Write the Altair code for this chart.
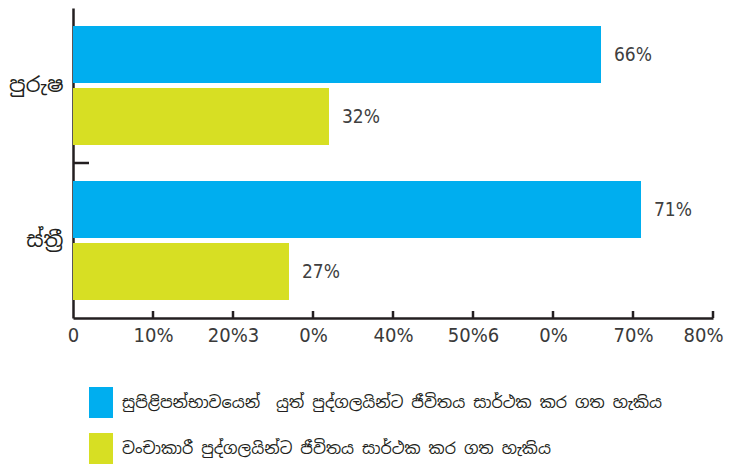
import altair as alt
import pandas as pd

# ---- data ----
categories = ["පුරුෂ", "ස්ත්\u200dරී"]
series = [
    "සුපිළිපන්භාවයෙන්\u00a0 යුත් පුද්ගලයින්ට ජීවිතය සාර්ථක කර ගත හැකිය",
    "වංචාකාරී පුද්ගලයින්ට ජීවිතය සාර්ථක කර ගත හැකිය",
]
honest_values = [66, 71]
deceitful_values = [32, 27]
x_tick_values = [0, 10, 20, 30, 40, 50, 60, 70, 80]
x_tick_labels = ["0", "10%", "20%3", "0%", "40%", "50%6", "0%", "70%", "80%"]
colors = ["#00AEEF", "#D7DF23"]

rows = []
for i, c in enumerate(categories):
    rows.append({"cat": c, "series": series[0], "v": honest_values[i]})
    rows.append({"cat": c, "series": series[1], "v": deceitful_values[i]})
df = pd.DataFrame(rows)
df["label"] = df["v"].astype(str) + "%"

ticks_df = pd.DataFrame({"v": x_tick_values[1:]})
mid_df = pd.DataFrame({"cat": categories[1:]})

NUM_FONT = "Liberation Sans Narrow, DejaVu Sans Condensed, Roboto, sans-serif"
SIN_FONT = "Noto Sans Sinhala, Noto Serif Sinhala, Iskoola Pota, sans-serif"
AXIS_COLOR = "#231F20"
PLOT_W, PLOT_H = 640, 310

label_js = "[" + ",".join('"%s"' % s for s in x_tick_labels) + "]"

x_enc = alt.X(
    "v:Q",
    scale=alt.Scale(domain=[0, 80], nice=False, zero=True),
    axis=alt.Axis(
        values=x_tick_values, labelExpr=label_js + "[round(datum.value/10)]",
        ticks=False, grid=False, title=None, domainColor=AXIS_COLOR, domainWidth=2.5,
        labelFont=NUM_FONT, labelFontSize=20, labelColor="#3a3a3a", labelPadding=7,
        labelFlush=False, labelOverlap=False,
        labelOffset={"condition": {"test": "datum.value == 80", "value": -10}, "value": 0},
    ),
)
y_enc = alt.Y(
    "cat:N",
    scale=alt.Scale(domain=categories, paddingInner=0, paddingOuter=0),
    axis=alt.Axis(
        title=None, ticks=False, domainColor=AXIS_COLOR, domainWidth=2.5,
        labelFont=SIN_FONT, labelFontSize=21, labelColor="#231F20", labelPadding=10,
    ),
)
yoff_enc = alt.YOffset("series:N", scale=alt.Scale(domain=series, paddingInner=0.08, paddingOuter=0.29))

bars = alt.Chart(df).mark_bar().encode(
    x=x_enc, y=y_enc, yOffset=yoff_enc,
    color=alt.Color(
        "series:N",
        scale=alt.Scale(domain=series, range=colors),
        legend=alt.Legend(
            title=None, orient="none", legendX=12.5, legendY=379, direction="vertical",
            symbolType="M-0.774,-1L0.774,-1L0.774,1L-0.774,1Z", symbolSize=961,
            symbolStrokeWidth=0, symbolOpacity=1, labelFont=SIN_FONT, labelFontSize=16,
            labelColor="#231F20", labelOffset=5.5, rowPadding=15, padding=0, labelLimit=700,
        ),
    ),
)

texts = alt.Chart(df).mark_text(
    align="left", baseline="middle", dx=13, font=NUM_FONT, fontSize=19, color="#404040"
).encode(x=x_enc, y=y_enc, yOffset=yoff_enc, text="label:N")

xticks = alt.Chart(ticks_df).mark_rule(color=AXIS_COLOR, strokeWidth=2.5).encode(
    x=x_enc, y=alt.value(PLOT_H - 7), y2=alt.value(PLOT_H)
)

mid_tick = alt.Chart(mid_df).mark_rule(color=AXIS_COLOR, strokeWidth=2.5).encode(
    y=alt.Y("cat:N", bandPosition=0, scale=alt.Scale(domain=categories, paddingInner=0, paddingOuter=0)),
    x=alt.value(0), x2=alt.value(16),
)

chart = alt.layer(bars, texts, xticks, mid_tick).properties(
    width=PLOT_W, height=PLOT_H,
    autosize=alt.AutoSizeParams(type="none"),
    padding={"left": 65, "top": 0, "right": 15, "bottom": 146},
).configure_view(stroke=None)

chart.save("out.html", embed_options={"renderer": "svg", "actions": False})
